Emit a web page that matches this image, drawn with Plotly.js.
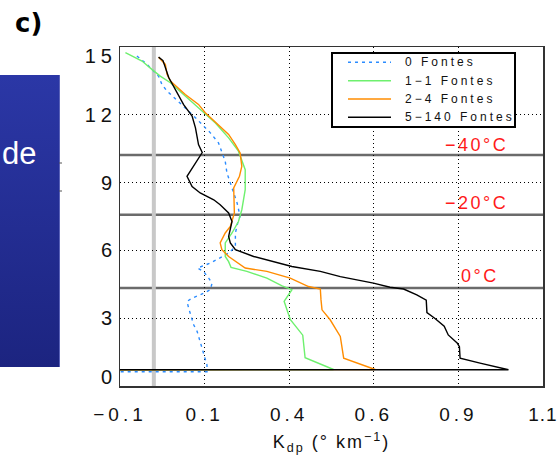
<!DOCTYPE html>
<html><head><meta charset="utf-8">
<script src="https://cdn.plot.ly/plotly-3.0.1.min.js"></script>
<style>
html,body{margin:0;padding:0;background:#fff;}
#wrap{position:relative;width:560px;height:455px;overflow:hidden;}
#panel{position:absolute;left:0;top:75px;width:59px;height:292px;background:linear-gradient(#2b37a6,#1c2480);border-right:1px solid #5a62b8;}
#chart{position:absolute;left:0;top:0;width:560px;height:455px;}
.xtick text{letter-spacing:4px;}
.xaxislayer-above .xtick:last-child text{letter-spacing:1px;}
.ytick text,.y2tick text{letter-spacing:5px;}
.g-xtitle text{letter-spacing:2px;}
</style></head>
<body><div id="wrap"><div id="panel"></div><div id="chart"></div></div>
<script>
// ---- data ----
const names = ['0 Fontes','1\u22121 Fontes','2\u22124 Fontes','5\u2212140 Fontes'];
const colors = ['#2b8cff','#6ef06e','#ff8c00','#000000'];
const dashes = ['3px,4px','solid','solid','solid'];

const h0 = [14.6,14.23,13.71,13.34,13.05,12.46,12.23,11.87,11.49,11.2,10.76,10.54,9.94,9.43,8.98,8.54,8.10,7.5,7.36,6.77,6.17,5.88,5.59,5.44,5.22,5.07,4.77,4.55,4.26,4.03,3.89,3.74,3.44,3.0,2.70,2.41,1.96,1.45,0.93,0.63,0.63];
const k0 = [-0.05,-0.02,0.014,0.024,0.039,0.083,0.098,0.123,0.147,0.167,0.191,0.196,0.211,0.216,0.226,0.236,0.246,0.255,0.25,0.241,0.241,0.221,0.187,0.167,0.129,0.147,0.162,0.172,0.167,0.137,0.113,0.098,0.103,0.113,0.118,0.128,0.137,0.147,0.157,0.157,-0.1];

const h1 = [14.75,14.38,14.0,13.71,13.42,12.68,12.01,11.64,10.98,10.39,9.57,8.69,7.8,7.28,6.77,6.33,5.73,5.5,5.25,5.07,4.77,4.43,4.26,3.75,2.95,2.25,1.25,1.0,0.73,0.72];
const k1 = [-0.084,-0.035,-0.005,0.019,0.049,0.103,0.152,0.182,0.221,0.25,0.27,0.27,0.26,0.25,0.231,0.211,0.211,0.221,0.228,0.275,0.334,0.379,0.408,0.385,0.403,0.44,0.447,0.49,0.531,-0.1];

const h2 = [14.55,14.23,13.79,13.49,12.9,12.46,12.09,11.57,11.13,10.68,10.31,9.72,9.28,8.76,7.65,7.06,6.77,6.33,6.03,5.73,5.22,5.07,4.77,4.40,4.29,3.81,3.37,2.93,2.19,1.23,1.01,0.73,0.72];
const k2 = [0.014,0.034,0.039,0.049,0.093,0.132,0.152,0.191,0.221,0.241,0.255,0.26,0.253,0.236,0.238,0.226,0.211,0.196,0.201,0.221,0.27,0.334,0.403,0.457,0.492,0.494,0.497,0.521,0.551,0.561,0.6,0.654,-0.1];

const h3 = [14.55,14.4,13.65,13.12,12.45,11.94,11.42,10.68,10.33,9.28,8.83,8.54,8.24,8.02,7.66,7.28,7.06,6.62,6.33,6.03,5.73,5.51,5.29,5.07,4.84,4.55,4.37,4.29,4.03,3.8,3.25,3.0,2.65,2.26,1.89,1.74,1.23,1.01,0.72,0.72];
const k3 = [0.014,0.027,0.044,0.064,0.088,0.113,0.123,0.132,0.143,0.098,0.113,0.137,0.177,0.196,0.221,0.231,0.228,0.221,0.226,0.241,0.295,0.354,0.408,0.492,0.551,0.649,0.698,0.738,0.777,0.805,0.807,0.83,0.858,0.870,0.897,0.903,0.905,0.964,1.048,-0.1];

const isoHeights = [10.22, 7.58, 4.34];
const isoLabels = ['\u221240\u00b0C','\u221220\u00b0C','0\u00b0C'];
const isoLabelY = [10.65, 8.10, 4.88];
const isoLabelX = [1.052, 1.052, 1.027];

const xTickVals = [-0.1, 0.15, 0.4, 0.65, 0.9, 1.1499];
const xTickText = ['\u22120.1','0.1','0.4','0.6','0.9','1.1'];
const yTickVals = [0, 3, 6, 9, 12, 15];
const yLabelPos = [0.38, 3, 6, 9, 12, 14.62];
const yTickText = ['0','3','6','9','12','15'];
const refLineX = 0;

// ---- figure ----
const W = 560, H = 455, ML = 120, MR = 17, MT = 47, MB = 69;
const PW = W - ML - MR, PH = H - MT - MB;
const px = x => (x - ML) / PW;          // pixel -> paper x
const py = y => (H - MB - y) / PH;      // pixel -> paper y

const xs = [k0,k1,k2,k3], ys = [h0,h1,h2,h3];
const traces = names.map((n,i)=>({
  x: xs[i], y: ys[i], type:'scatter', mode:'lines', name:n, showlegend:false,
  line:{color:colors[i], width:1.4, dash: dashes[i]}
}));
traces.push({x:[null], y:[null], yaxis:'y2', showlegend:false, hoverinfo:'skip'});

const fam = 'Liberation Sans, Arial, sans-serif';
const shapes = [];
isoHeights.forEach(h=>shapes.push({type:'line', xref:'x', yref:'y', x0:-0.1, x1:1.15, y0:h, y1:h, line:{color:'#6b6b6b', width:2.5}, layer:'below'}));
shapes.push({type:'line', xref:'x', yref:'y', x0:refLineX, x1:refLineX, y0:0, y1:15, line:{color:'#c8c8c8', width:4}, layer:'below'});
// small marks next to the side panel
[163,191].forEach(yy=>shapes.push({type:'line', xref:'paper', yref:'paper', x0:px(59), x1:px(62), y0:py(yy), y1:py(yy), line:{color:'#555', width:1}}));

// legend box (drawn by hand to match the reference's compact layout)
const legTop = 53, legBot = 127, legL = 332, legR = 515, rowY = [62.3, 80.7, 99, 117.3];
shapes.push({type:'rect', xref:'paper', yref:'paper', x0:px(legL), x1:px(legR), y0:py(legBot), y1:py(legTop),
  fillcolor:'#fff', line:{color:'#000', width:2}, layer:'above'});
const annotations = [];
names.forEach((n,i)=>{
  shapes.push({type:'line', xref:'paper', yref:'paper', x0:px(348), x1:px(391), y0:py(rowY[i]), y1:py(rowY[i]),
    line:{color:colors[i], width:1.4, dash:dashes[i]}, layer:'above'});
  annotations.push({xref:'paper', yref:'paper', x:px(403), y:py(rowY[i]), xanchor:'left', yanchor:'middle',
    text:'<span style="letter-spacing:3px">'+n+'</span>', showarrow:false, font:{family:fam, size:12, color:'#111'}});
});

isoLabels.forEach((t,i)=>annotations.push({
  x: isoLabelX[i], y: isoLabelY[i], xref:'x', yref:'y', text:'<span style="letter-spacing:2.5px">'+t+'</span>', showarrow:false,
  xanchor:'right', yanchor:'middle', font:{family:fam, size:18, color:'#ff1a1a'}
}));
annotations.push({xref:'paper', yref:'paper', x:px(28), y:py(23), text:'<b>c)</b>', showarrow:false,
  xanchor:'center', yanchor:'middle', font:{family:'DejaVu Sans, sans-serif', size:26, color:'#000'}});
annotations.push({xref:'paper', yref:'paper', x:px(0), y:py(153), text:'de', showarrow:false,
  xanchor:'left', yanchor:'middle', font:{family:fam, size:31, color:'#fff'}});

const layout = {
  width:W, height:H,
  margin:{l:ML, r:MR, t:MT, b:MB},
  paper_bgcolor:'rgba(0,0,0,0)', plot_bgcolor:'#fff',
  font:{family:fam, color:'#111'},
  showlegend:false,
  xaxis:{range:[-0.1,1.15], tickvals:xTickVals, ticktext:xTickText, showgrid:true, gridcolor:'#000', gridwidth:1,
    griddash:'1px,3px', zeroline:false, showline:true, mirror:true, linecolor:'#333', linewidth:1.5,
    ticks:'', tickfont:{size:19}, ticklabelstandoff:11, ticklabeloverflow:'allow',
    title:{text:'K<sub>dp</sub> (\u00b0 km<sup>\u22121</sup>)', font:{size:18}, standoff:11}},
  yaxis:{range:[0,15], tickvals:yTickVals, showticklabels:false, showgrid:true, gridcolor:'#000', gridwidth:1,
    griddash:'1px,3px', zeroline:false, showline:true, mirror:true, linecolor:'#333', linewidth:1.5, ticks:''},
  yaxis2:{range:[0,15], overlaying:'y', side:'left', tickvals:yLabelPos, ticktext:yTickText, showgrid:false,
    zeroline:false, showline:false, ticks:'', tickfont:{size:20}, ticklabelstandoff:2},
  shapes: shapes,
  annotations: annotations
};
Plotly.newPlot('chart', traces, layout, {displayModeBar:false, staticPlot:true});
</script>
</body></html>
